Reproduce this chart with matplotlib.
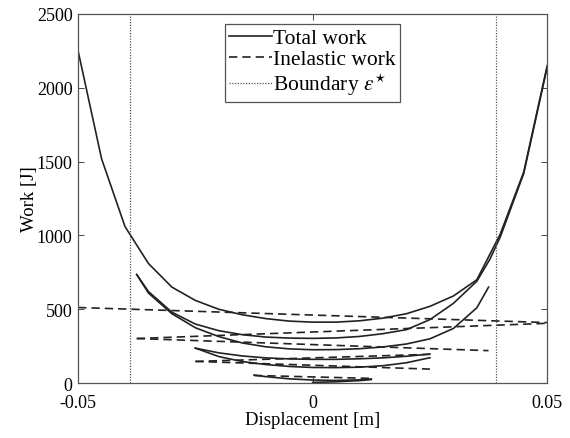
import matplotlib
matplotlib.use("Agg")
import matplotlib.pyplot as plt
import numpy as np

plt.rcParams["font.family"] = ["Liberation Serif", "DejaVu Serif"]
plt.rcParams["mathtext.fontset"] = "stix"

# Total work curves (displacement [m], work [J])
x_a = [-0.05, -0.045, -0.04, -0.035, -0.03, -0.025, -0.02, -0.015, -0.01, -0.005,
       0.0, 0.005, 0.01, 0.015, 0.02, 0.025, 0.03, 0.035, 0.04, 0.045, 0.05]
w_a = [2250, 1520, 1060, 810, 650, 560, 500, 463, 437, 420,
       413, 413, 422, 440, 470, 520, 590, 700, 1010, 1430, 2150]

x_b = [-0.0375, -0.035, -0.03, -0.025, -0.02, -0.015, -0.01, -0.005, 0.0, 0.005,
       0.01, 0.015, 0.02, 0.025, 0.03, 0.035, 0.0378, 0.04, 0.045, 0.05]
w_b = [735, 620, 480, 400, 355, 328, 312, 305, 303, 306,
       316, 335, 362, 430, 540, 690, 840, 990, 1420, 2140]

x_c = [-0.0375, -0.035, -0.03, -0.025, -0.02, -0.015, -0.01, -0.005, 0.0, 0.005,
       0.01, 0.015, 0.02, 0.025, 0.03, 0.035, 0.0375]
w_c = [735, 610, 470, 375, 315, 272, 246, 232, 226, 227,
       233, 245, 265, 300, 370, 510, 650]

x_d = [-0.025, -0.02, -0.015, -0.01, -0.005, 0.0, 0.005, 0.01, 0.015, 0.02, 0.025]
w_d = [237, 205, 184, 171, 164, 161, 161, 165, 171, 182, 197]

x_e = [-0.025, -0.02, -0.015, -0.01, -0.005, 0.0, 0.005, 0.01, 0.015, 0.02, 0.025]
w_e = [237, 180, 146, 126, 113, 106, 105, 108, 118, 138, 172]

x_f = [-0.0125, -0.01, -0.005, 0.0, 0.005, 0.01, 0.0125]
w_f = [54, 44, 29, 21, 18, 22, 28]

x_g = [0.0, 0.005, 0.01, 0.0125]
w_g = [5, 9, 17, 24]

total_curves = [(x_a, w_a), (x_b, w_b), (x_c, w_c), (x_d, w_d),
                (x_e, w_e), (x_f, w_f), (x_g, w_g)]

# Inelastic work lines: (start x, end x, start work, end work)
inel_x = [(-0.05, 0.05), (-0.0375, 0.05), (-0.0375, 0.0375),
          (-0.025, 0.025), (-0.025, 0.025), (-0.0125, 0.0125)]
inel_w = [(512, 410), (302, 405), (302, 220),
          (147, 95), (147, 195), (52, 32)]

boundary = 0.039

fig = plt.figure(figsize=(5.70, 4.39), dpi=100)
ax = fig.add_axes([0.137, 0.125, 0.823, 0.841])

line_col = "#222222"
for i, (xs, ws) in enumerate(total_curves):
    ax.plot(xs, ws, color=line_col, lw=1.2,
            label="Total work" if i == 0 else None)
for i, (xs, ws) in enumerate(zip(inel_x, inel_w)):
    ax.plot(xs, ws, color=line_col, lw=1.2, linestyle=(0, (5, 3)),
            label="Inelastic work" if i == 0 else None)
for i, xb in enumerate([-boundary, boundary]):
    ax.axvline(xb, color="#555555", lw=0.9, linestyle=(0, (1, 1.2)),
               label=r"Boundary $\varepsilon^{\star}$" if i == 0 else None)

ax.set_xlim(-0.05, 0.05)
ax.set_ylim(0, 2500)
ax.set_xticks([-0.05, 0, 0.05])
ax.set_xticklabels(["-0.05", "0", "0.05"])
ax.set_yticks([0, 500, 1000, 1500, 2000, 2500])
ax.tick_params(direction="in", top=True, right=True, labelsize=13,
               length=4, width=0.7, color="#444444")
ax.tick_params(axis="x", pad=8)
ax.tick_params(axis="y", pad=4)
for s in ax.spines.values():
    s.set_color("#555555")
    s.set_linewidth(0.9)

ax.set_xlabel("Displacement [m]", fontsize=13.5, labelpad=0)
ax.set_ylabel("Work [J]", fontsize=13.5, labelpad=-1)

leg = ax.legend(loc="upper center", bbox_to_anchor=(0.5, 0.973), fontsize=15.5,
                frameon=True, fancybox=False, framealpha=1, edgecolor="#555555",
                borderpad=0.2, labelspacing=0.05, handlelength=2.0,
                handletextpad=0.05, borderaxespad=0)
leg.get_frame().set_linewidth(0.9)

fig.savefig("out.png", dpi=100)
